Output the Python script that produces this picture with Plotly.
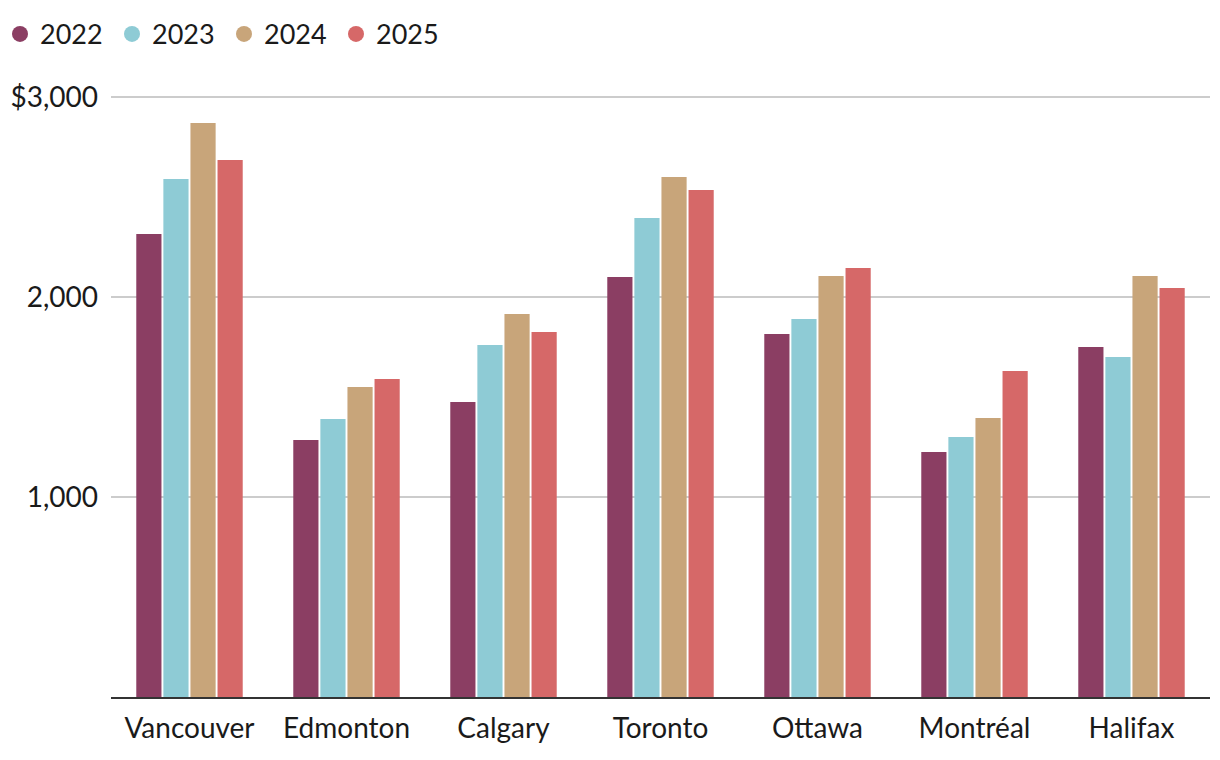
import plotly.graph_objects as go

cities = ["Vancouver", "Edmonton", "Calgary", "Toronto", "Ottawa", "Montréal", "Halifax"]
years = ["2022", "2023", "2024", "2025"]
v2022 = [2315, 1285, 1475, 2100, 1815, 1225, 1750]
v2023 = [2590, 1390, 1760, 2395, 1890, 1300, 1700]
v2024 = [2870, 1550, 1915, 2600, 2105, 1395, 2105]
v2025 = [2685, 1590, 1825, 2535, 2145, 1630, 2045]
colors = ["#8B3E63", "#8ECBD5", "#C8A57A", "#D66868"]
tick_vals = [1000, 2000, 3000]
tick_text = ["1,000", "2,000", "$3,000"]

FONT = "Lato"
series = [v2022, v2023, v2024, v2025]

fig = go.Figure()
for y, vals, c in zip(years, series, colors):
    fig.add_trace(go.Bar(x=cities, y=vals, name=y, marker=dict(color=c, line=dict(width=0)),
                         legendgroup=y, showlegend=False))
for y, c in zip(years, colors):
    fig.add_trace(go.Scatter(x=[None], y=[None], mode="markers", name=y, legendgroup=y,
                             marker=dict(symbol="circle", size=18, color=c)))

fig.update_layout(
    width=1220, height=760,
    paper_bgcolor="white", plot_bgcolor="white",
    margin=dict(l=111, r=10, t=95, b=63),
    barmode="group", bargap=0.31, bargroupgap=0.07,
    font=dict(family=FONT, size=27, color="#1a1a1a"),
    legend=dict(orientation="h", xref="container", yref="container", x=0.0, y=0.987,
                xanchor="left", yanchor="top", font=dict(size=27, family=FONT),
                itemwidth=30, tracegroupgap=0, entrywidth=67),
    xaxis=dict(showline=True, linecolor="#333333", linewidth=2, ticks="",
               tickfont=dict(size=28, family=FONT), ticklabelstandoff=5, automargin=False),
    yaxis=dict(range=[0, 3010], tickvals=tick_vals, ticktext=tick_text, showgrid=True,
               gridcolor="#cccccc", gridwidth=1.5, zeroline=False, showline=False,
               ticks="", tickfont=dict(size=28, family=FONT), ticklabelstandoff=12,
               automargin=False),
)
fig.write_html("out.html", config={"displayModeBar": False},
               post_script="document.body.style.margin='0px';")
